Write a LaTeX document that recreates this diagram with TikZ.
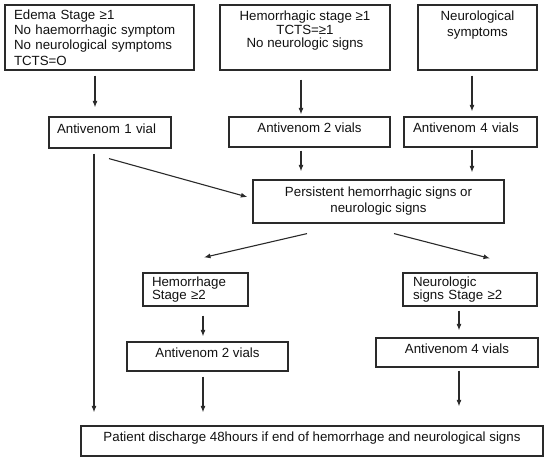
\documentclass[tikz,border=0pt]{standalone}
\usepackage{fontspec}
\setmainfont{Liberation Sans}
\usetikzlibrary{arrows.meta}
\newcommand{\myfs}[1]{\fontsize{13.3pt}{#1}\selectfont}
\definecolor{lncol}{HTML}{2A2A2A}
\definecolor{txcol}{HTML}{111111}
\begin{document}
\begin{tikzpicture}[x=1pt,y=-1pt,
  box/.style={draw=lncol, line width=1.2pt, inner sep=0pt, text=txcol, font=\myfs{15.4pt}},
  onel/.style={text height=9.5pt, text depth=8pt},
  arr/.style={draw=lncol, line width=1.1pt, -{Latex[length=6.5pt,width=5pt]}}]
\useasboundingbox (0,0) rectangle (550,462);
% top row
\node[box, text width=171pt, inner xsep=9pt, align=left, minimum height=65pt] (edema) at (99.5,37.5)
  {Edema Stage ≥1\\No haemorrhagic symptom\\No neurological symptoms\\TCTS=O};
\node[box] (hem) at (305,37.5)
  {\begin{minipage}[c][65pt][t]{170pt}\centering\myfs{13.5pt}\vspace*{6pt}Hemorrhagic stage ≥1\\TCTS=≥1\\No neurologic signs\end{minipage}};
\node[box] (neu) at (477.5,37.5)
  {\begin{minipage}[c][65pt][t]{119pt}\centering\myfs{16pt}\vspace*{6pt}Neurological\\symptoms\end{minipage}};
% second row
\node[box, onel, text width=106pt, inner xsep=8pt, align=left, minimum height=31pt] (a1) at (110,132.5) {Antivenom 1 vial};
\node[box, onel, minimum width=161pt, minimum height=30pt] (a2t) at (309.5,132) {Antivenom 2 vials};
\node[box, onel, text width=115pt, inner xsep=9pt, align=left, minimum height=30pt] (a4t) at (470.5,132) {Antivenom 4 vials};
% persistent
\node[box, font=\myfs{16pt}, align=center, minimum width=251pt, minimum height=43pt] (pers) at (378.5,201.5)
  {Persistent hemorrhagic signs or\\neurologic signs};
% stage boxes
\node[box, font=\myfs{13pt}, text width=87pt, inner xsep=9pt, align=left, minimum height=33pt] (hst) at (195.5,289.5)
  {Hemorrhage\\Stage ≥2};
\node[box, font=\myfs{13pt}, text width=114pt, inner xsep=10pt, align=left, minimum height=33pt] (nst) at (470,289.5)
  {Neurologic\\signs Stage ≥2};
% lower antivenom
\node[box, onel, minimum width=161pt, minimum height=29pt] (a2b) at (207.5,356.5) {Antivenom 2 vials};
\node[box, onel, minimum width=162pt, minimum height=29pt] (a4b) at (457,352.5) {Antivenom 4 vials};
% discharge
\node[box, onel, minimum width=462pt, minimum height=30pt] (disc) at (312,441)
  {Patient discharge 48hours if end of hemorrhage and neurological signs};
% x positions of vertical connectors
\coordinate (xa) at (95,0);
\coordinate (xb) at (301,0);
\coordinate (xc) at (472,0);
\coordinate (xd) at (203,0);
\coordinate (xe) at (459,0);
\coordinate (xf) at (94,0);
% vertical connectors
\draw[arr, shorten <=5pt, shorten >=9pt] (edema.south -| xa) -- (a1.north -| xa);
\draw[arr, shorten <=9pt, shorten >=2pt] (hem.south -| xb) -- (a2t.north -| xb);
\draw[arr, shorten <=5pt, shorten >=5pt] (neu.south -| xc) -- (a4t.north -| xc);
\draw[arr, shorten <=3pt, shorten >=8pt] (a2t.south -| xb) -- (pers.north -| xb);
\draw[arr, shorten <=2pt, shorten >=7pt] (a4t.south -| xc) -- (pers.north -| xc);
\draw[arr, shorten <=9pt, shorten >=5pt] (hst.south -| xd) -- (a2b.north -| xd);
\draw[arr, shorten <=4pt, shorten >=7pt] (nst.south -| xe) -- (a4b.north -| xe);
\draw[arr, shorten <=5pt, shorten >=13pt] (a1.south -| xf) -- (disc.north -| xf);
\draw[arr, shorten <=5pt, shorten >=13pt] (a2b.south -| xd) -- (disc.north -| xd);
\draw[arr, shorten <=3pt, shorten >=19pt] (a4b.south -| xe) -- (disc.north -| xe);
% diagonal connectors
\draw[arr] ([shift={(-1,10)}]a1.south) -- ([shift={(-5,-4.5)}]pers.west);
\draw[arr] ([shift={(-71.5,10)}]pers.south) -- ([shift={(8.5,-15)}]hst.north);
\draw[arr] ([shift={(15.5,10)}]pers.south) -- ([shift={(20,-14)}]nst.north);
\end{tikzpicture}
\end{document}
